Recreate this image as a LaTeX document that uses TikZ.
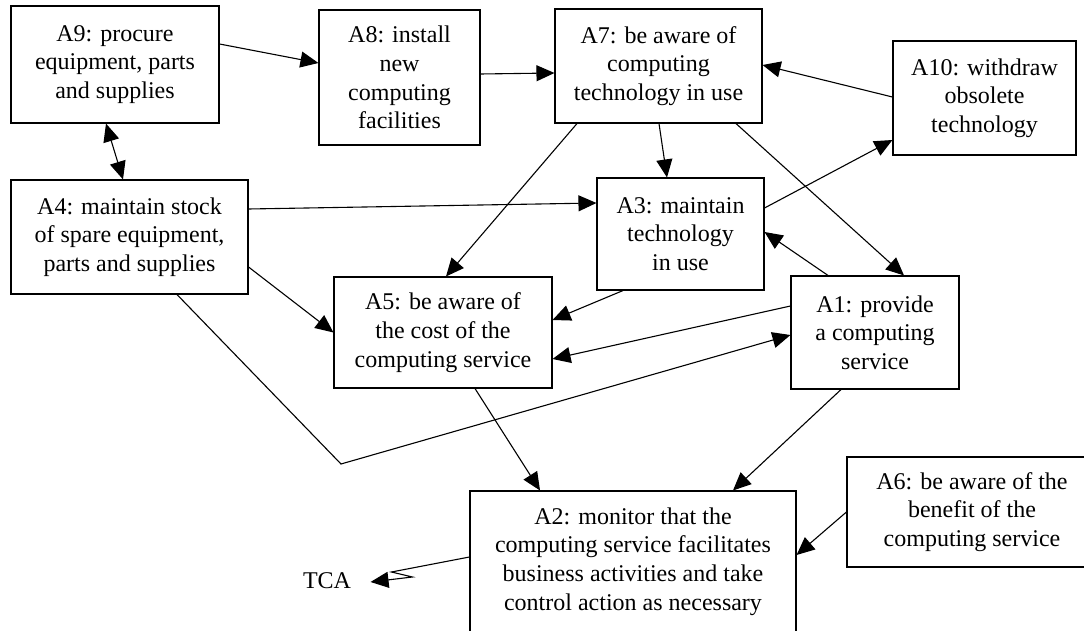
\documentclass[tikz,border=0pt]{standalone}
\usepackage{fontspec}
\setmainfont{Liberation Serif}
\usetikzlibrary{arrows.meta}

\tikzset{
  act/.style={draw, line width=1.1pt, align=center, inner sep=0pt, font=\fontsize{24}{28.7}\selectfont},
}

\begin{document}
\begin{tikzpicture}[x=1pt, y=1pt, line width=1.1pt, >={Triangle[length=18pt, width=16pt]}]

\useasboundingbox (0,0) rectangle (1084,630);
\clip (0,0) rectangle (1084,630);

\node[act, minimum width=208pt, minimum height=117pt] (A9)  at (115,565.5) {A9: procure\\equipment, parts\\and supplies};
\node[act, minimum width=161pt, minimum height=135pt] (A8)  at (399.5,552.5) {A8: install\\new\\computing\\facilities};
\node[act, minimum width=207pt, minimum height=114pt] (A7)  at (658.5,564) {A7: be aware of\\computing\\technology in use};
\node[act, minimum width=183pt, minimum height=114pt] (A10) at (984.5,532) {A10: withdraw\\obsolete\\technology};
\node[act, minimum width=167pt, minimum height=112pt] (A3)  at (680.5,396) {A3: maintain\\technology\\in use};
\node[act, minimum width=237pt, minimum height=114pt] (A4)  at (129.5,393) {A4: maintain stock\\of spare equipment,\\parts and supplies};
\node[act, minimum width=218pt, minimum height=111pt] (A5)  at (443,297.5) {A5: be aware of\\the cost of the\\computing service};
\node[act, minimum width=168pt, minimum height=113pt] (A1)  at (875,297.5) {A1: provide\\a computing\\service};
\node[act, minimum width=250pt, minimum height=110pt] (A6)  at (972,118) {A6: be aware of the\\benefit of the\\computing service};
\node[act, minimum width=326pt, minimum height=141pt] (A2)  at (633,68.5) {A2: monitor that the\\computing service facilitates\\business activities and take\\control action as necessary};
\node[inner sep=0pt, font=\fontsize{24}{28.7}\selectfont] (TCA) at (327,49) {TCA};

\coordinate (bend) at (341,166);

\draw[->] ([yshift=20.5pt]A9.east) -- ([yshift=14.5pt]A8.west);
\draw[->] ([yshift=3.5pt]A8.east) -- ([yshift=-7pt]A7.west);
\draw[->] ([yshift=1pt]A10.west) -- ([yshift=1pt]A7.east);
\draw[->] ([xshift=0.5pt]A7.south) -- ([xshift=-13.5pt]A3.north);
\draw[->] ([yshift=26pt]A3.east) -- ([yshift=-42pt]A10.west);
\draw[<->] ([xshift=-9pt]A9.south) -- ([xshift=-6.5pt]A4.north);
\draw[->] ([yshift=28pt]A4.east) -- ([yshift=31pt]A3.west);
\draw[->] ([xshift=-81.5pt]A7.south) -- ([xshift=3pt]A5.north);
\draw[->] ([xshift=77.5pt]A7.south) -- ([xshift=29pt]A1.north);
\draw[->] ([xshift=-47pt]A1.north) -- ([yshift=2pt]A3.east);
\draw[->] ([xshift=-57.5pt]A3.south) -- ([yshift=12.5pt]A5.east);
\draw[->] ([yshift=26.5pt]A1.west) -- ([yshift=-26.5pt]A5.east);
\draw[->] ([xshift=47.5pt]A4.south) -- (bend) -- ([yshift=-2.5pt]A1.west);
\draw[->] ([yshift=-30pt]A4.east) -- (A5.west);
\draw[->] ([xshift=32pt]A5.south) -- ([xshift=-93pt]A2.north);
\draw[->] ([xshift=-34pt]A1.south) -- ([xshift=100pt]A2.north);
\draw[->] (A6.west) -- ([yshift=6.5pt]A2.east);
\draw[->] ([yshift=4.5pt]A2.west) -- ++(-78,-15) -- ++(21,-5) -- ([xshift=19pt, yshift=-1pt]TCA.east);

\end{tikzpicture}
\end{document}
